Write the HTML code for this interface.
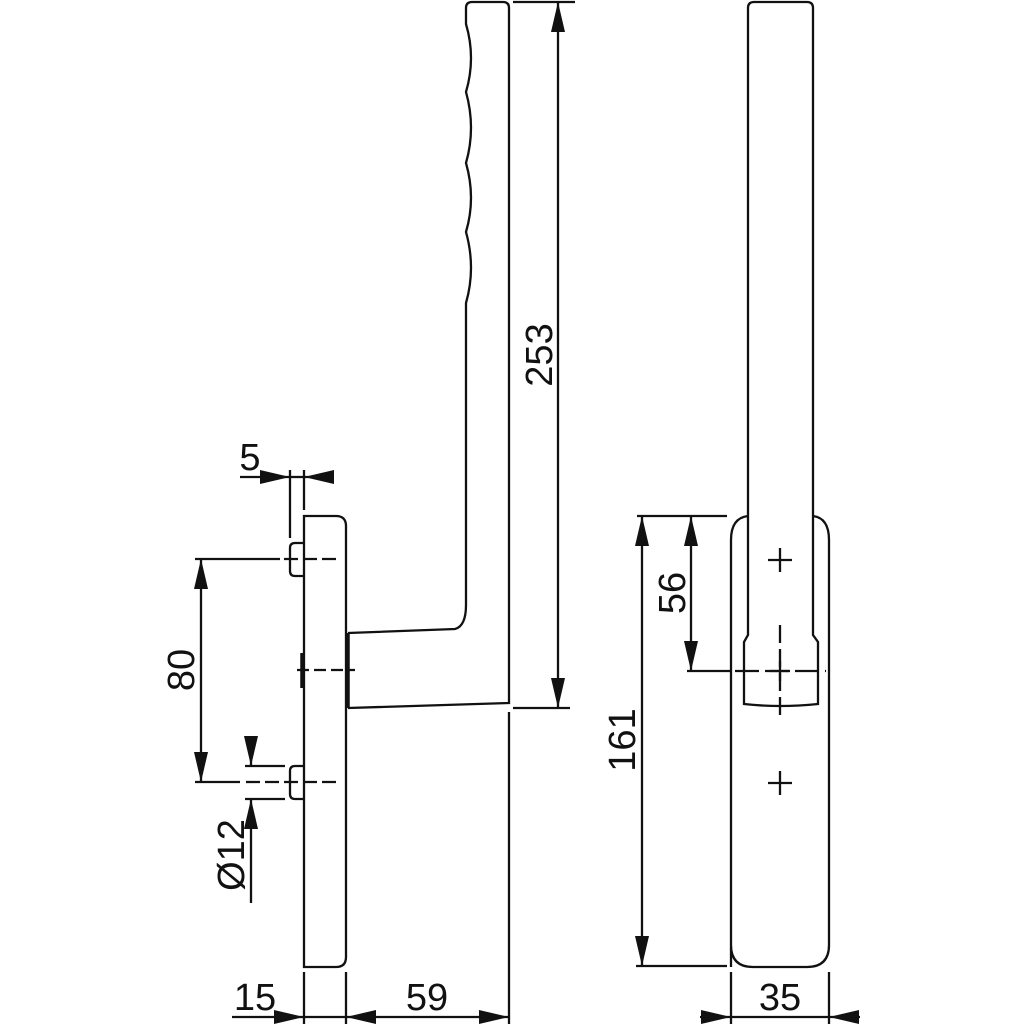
<!DOCTYPE html>
<html><head><style>html,body{margin:0;padding:0;background:#fff}</style></head>
<body>
<svg width="1024" height="1024" viewBox="0 0 1024 1024" xmlns="http://www.w3.org/2000/svg">
<defs>
<marker id="a" viewBox="0 0 30 14" refX="30" refY="7" markerWidth="30" markerHeight="14" markerUnits="userSpaceOnUse" orient="auto-start-reverse"><path d="M0,0 L30,7 L0,14 z" fill="#111"/></marker>
</defs>
<g fill="none" stroke="#111" stroke-width="2.3">
<!-- LEFT VIEW -->
<path d="M304,967 L304,516 L336,516 Q346,516 346,526 L346,957 Q346,967 336,967 Z"/>
<path d="M348,633 L455,629 Q466,626 466,605 L466,303 Q476,268 466,232 Q476,198 466,163 Q476,128 466,92 Q476,58 466,24 L466,8 Q466,2 472,2 L503,2 Q509,2 509,8 L509,703 L348,708"/>
<line x1="348" y1="633" x2="348" y2="708" stroke-width="3.5"/>
<path d="M304,543 L295,543 Q290,543 290,548 L290,571 Q290,576 295,576 L304,576"/>
<path d="M304,766 L295,766 Q290,766 290,771 L290,794 Q290,799 295,799 L304,799"/>
<line x1="195" y1="559" x2="280" y2="559"/>
<line x1="284" y1="559" x2="338" y2="559" stroke-dasharray="14,5"/>
<line x1="195" y1="782" x2="240" y2="782"/>
<line x1="246" y1="782" x2="338" y2="782" stroke-dasharray="14,5"/>
<line x1="302" y1="653" x2="302" y2="688" stroke-width="3.5"/>
<line x1="297" y1="670" x2="355" y2="670" stroke-dasharray="12,5"/>
<line x1="290" y1="470" x2="290" y2="538"/>
<line x1="304" y1="470" x2="304" y2="510"/>
<line x1="240" y1="477" x2="290" y2="477" marker-end="url(#a)"/>
<line x1="333" y1="477" x2="304" y2="477" marker-end="url(#a)"/>
<line x1="290" y1="477" x2="304" y2="477"/>
<line x1="201" y1="559" x2="201" y2="782" marker-start="url(#a)" marker-end="url(#a)"/>
<line x1="245" y1="766" x2="285" y2="766"/>
<line x1="245" y1="799" x2="285" y2="799"/>
<line x1="251" y1="738" x2="251" y2="766" marker-end="url(#a)"/>
<line x1="251" y1="903" x2="251" y2="799" marker-end="url(#a)"/>
<line x1="513" y1="2" x2="575" y2="2"/>
<line x1="513" y1="708" x2="570" y2="708"/>
<line x1="558" y1="2" x2="558" y2="708" marker-start="url(#a)" marker-end="url(#a)"/>
<line x1="304" y1="972" x2="304" y2="1024"/>
<line x1="346" y1="972" x2="346" y2="1024"/>
<line x1="509" y1="712" x2="509" y2="1024"/>
<line x1="232" y1="1017" x2="304" y2="1017" marker-end="url(#a)"/>
<line x1="304" y1="1017" x2="346" y2="1017"/>
<line x1="346" y1="1017" x2="509" y2="1017" marker-start="url(#a)" marker-end="url(#a)"/>
<!-- RIGHT VIEW -->
<path d="M731,967 L731,540 Q731,518 748,516 M813,516 Q829,518 829,540 L829,945 Q829,967 807,967 L753,967 Q731,967 731,945"/>
<path d="M748,635 L748,8 Q748,2 754,2 L807,2 Q813,2 813,8 L813,635 L818,642 L818,704 Q780,708 744,704 L744,642 Z"/>
<line x1="768" y1="560" x2="792" y2="560"/><line x1="780" y1="548" x2="780" y2="572"/>
<line x1="768" y1="783" x2="792" y2="783"/><line x1="780" y1="771" x2="780" y2="795"/>
<line x1="780" y1="625" x2="780" y2="717" stroke-dasharray="18,6"/>
<line x1="735" y1="671" x2="826" y2="671" stroke-dasharray="24,6"/>
<line x1="770" y1="671" x2="790" y2="671"/><line x1="780" y1="661" x2="780" y2="681"/>
<line x1="637" y1="516" x2="727" y2="516"/>
<line x1="687" y1="671" x2="731" y2="671"/>
<line x1="691" y1="516" x2="691" y2="671" marker-start="url(#a)" marker-end="url(#a)"/>
<line x1="636" y1="966" x2="727" y2="966"/>
<line x1="642" y1="516" x2="642" y2="966" marker-start="url(#a)" marker-end="url(#a)"/>
<line x1="731" y1="972" x2="731" y2="1024"/>
<line x1="829" y1="972" x2="829" y2="1024"/>
<line x1="700" y1="1017" x2="731" y2="1017" marker-end="url(#a)"/>
<line x1="860" y1="1017" x2="829" y2="1017" marker-end="url(#a)"/>
<line x1="731" y1="1017" x2="829" y2="1017"/>
</g>
<g font-family="Liberation Sans, sans-serif" font-size="38" fill="#111">
<text x="250" y="470" text-anchor="middle">5</text>
<text x="255" y="1010" text-anchor="middle">15</text>
<text x="427" y="1010" text-anchor="middle">59</text>
<text x="780" y="1010" text-anchor="middle">35</text>
<text transform="translate(194,670) rotate(-90)" text-anchor="middle">80</text>
<text transform="translate(244,855) rotate(-90)" text-anchor="middle">Ø12</text>
<text transform="translate(552,355) rotate(-90)" text-anchor="middle">253</text>
<text transform="translate(685,593) rotate(-90)" text-anchor="middle">56</text>
<text transform="translate(635,740) rotate(-90)" text-anchor="middle">161</text>
</g>
</svg>
</body></html>
